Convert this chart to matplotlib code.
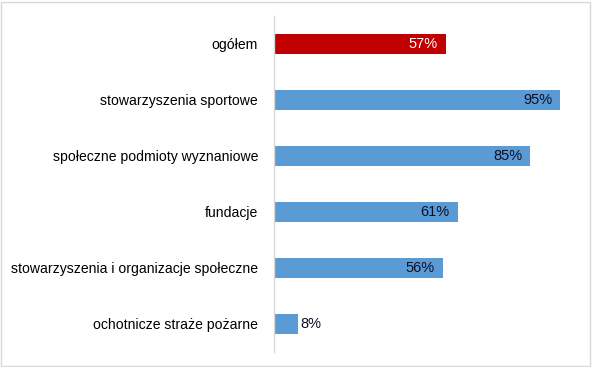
import matplotlib
matplotlib.use("Agg")
import matplotlib.pyplot as plt
from matplotlib.patches import Rectangle

categories = ["ogółem", "stowarzyszenia sportowe", "społeczne podmioty wyznaniowe",
              "fundacje", "stowarzyszenia i organizacje społeczne", "ochotnicze straże pożarne"]
values = [57, 95, 85, 61, 56, 8]
labels = ["57%", "95%", "85%", "61%", "56%", "8%"]
colors = ["#C00000", "#5B9BD5", "#5B9BD5", "#5B9BD5", "#5B9BD5", "#5B9BD5"]

plt.rcParams['font.family'] = ['Liberation Sans', 'DejaVu Sans']

W, H = 592, 367
fig = plt.figure(figsize=(W/100, H/100), dpi=100)
left, right = 274/W, 575/W
bottom, top = 1 - 352/H, 1 - 16/H
ax = fig.add_axes([left, bottom, right-left, top-bottom])

y = list(range(len(categories)))
ax.barh(y, values, height=0.36, color=colors)
ax.set_xlim(0, 100)
ax.set_ylim(len(categories)-0.5, -0.5)
ax.set_yticks(y)
ax.set_yticklabels(categories, fontsize=10.1, color="#000000")
ax.tick_params(axis='y', length=0, pad=11.5)
ax.set_xticks([])
for s in ["top", "right", "bottom"]:
    ax.spines[s].set_visible(False)
ax.spines["left"].set_color("#D9D9D9")
ax.spines["left"].set_linewidth(1)

for i, (v, lab) in enumerate(zip(values, labels)):
    if v > 20:
        col = "white" if i == 0 else "#0D0D26"
        ax.text(v - 2.6, i, lab, ha="right", va="center", fontsize=10.5, color=col)
    else:
        ax.text(v + 0.8, i, lab, ha="left", va="center", fontsize=10.5, color="#0D0D26")

fig.patches.append(Rectangle((1/W, 1/H), (W-3)/W, (H-3)/H, transform=fig.transFigure,
                             fill=False, edgecolor="#D9D9D9", linewidth=1))
fig.savefig("out.png", dpi=100)
